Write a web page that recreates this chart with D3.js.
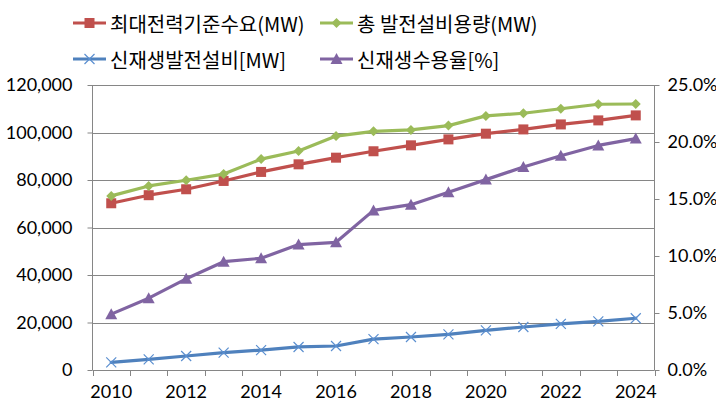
<!DOCTYPE html>
<html><head><meta charset="utf-8">
<script src="https://cdn.jsdelivr.net/npm/d3@7"></script>
<style>
html,body{margin:0;padding:0;background:#fff;}
svg{display:block;}
.ax text{font-family:Lato, "Open Sans", sans-serif;font-size:18px;fill:#000;}
.leg text{font-family:"Noto Sans CJK KR", sans-serif;font-size:20px;fill:#000;}
</style></head>
<body>
<script>
const years = [2010,2011,2012,2013,2014,2015,2016,2017,2018,2019,2020,2021,2022,2023,2024];
const peakDemand = [70200,73600,76100,79600,83400,86600,89400,92100,94600,97100,99500,101300,103400,105100,107200];
const totalCapacity = [73300,77500,79900,82500,88800,92200,98500,100500,101100,102900,107000,108100,110000,111900,112000];
const renewableCapacity = [3200,4500,5900,7300,8400,9700,10100,13000,13900,15000,16700,18100,19400,20500,21800];
const renewableRatio = [4.9,6.3,8.0,9.5,9.8,11.0,11.2,14.0,14.5,15.6,16.7,17.8,18.8,19.7,20.3];
const leftTicks = [0,20000,40000,60000,80000,100000,120000];
const rightTicks = [0,5,10,15,20,25];
const xLabels = [2010,2012,2014,2016,2018,2020,2022,2024];
const seriesNames = ["최대전력기준수요(MW)","총 발전설비용량(MW)","신재생발전설비[MW]","신재생수용율[%]"];

const W=716,H=412;
const L=92.5,R=654.5,T=85,B=370;
const svg=d3.select("body").append("svg").attr("width",W).attr("height",H);

const x=d3.scaleBand().domain(years).range([L,R]).padding(0);
const cx=d=>x(d)+x.bandwidth()/2;
const yL=d3.scaleLinear().domain([0,120000]).range([B,T]);
const yR=d3.scaleLinear().domain([0,25]).range([B,T]);
const gridC="#868686";

// gridlines
svg.append("g").selectAll("line").data(leftTicks.filter(d=>d>0)).join("line")
  .attr("x1",L).attr("x2",R).attr("y1",d=>Math.round(yL(d))+0.5).attr("y2",d=>Math.round(yL(d))+0.5)
  .attr("stroke",gridC).attr("stroke-width",1);

// left axis
const gl=svg.append("g").attr("class","ax").attr("transform",`translate(${L},0)`)
  .call(d3.axisLeft(yL).tickValues(leftTicks).tickSize(5).tickPadding(15).tickFormat(d3.format(",")));
gl.selectAll("line,path").attr("stroke",gridC);
gl.select(".domain").attr("d",`M0,${B}V${T}`);
gl.selectAll("text").attr("font-family",null).attr("font-size",null);

// right axis
const gr=svg.append("g").attr("class","ax").attr("transform",`translate(${R},0)`)
  .call(d3.axisRight(yR).tickValues(rightTicks).tickSize(5).tickPadding(8).tickFormat(d=>d.toFixed(1)+"%"));
gr.selectAll("line,path").attr("stroke",gridC);
gr.select(".domain").attr("d",`M0,${B}V${T}`);
gr.selectAll("text").attr("font-family",null).attr("font-size",null);

// bottom axis
const gb=svg.append("g").attr("class","ax");
gb.append("line").attr("x1",L).attr("x2",R).attr("y1",B+0.5).attr("y2",B+0.5).attr("stroke",gridC);
const bounds=years.map(d=>x(d)).concat([R]);
gb.selectAll("line.t").data(bounds).join("line").attr("class","t")
  .attr("x1",d=>Math.round(d)+0.5).attr("x2",d=>Math.round(d)+0.5).attr("y1",B).attr("y2",B+6).attr("stroke",gridC);
gb.selectAll("text").data(xLabels).join("text")
  .attr("x",d=>cx(d)).attr("y",B+23).attr("text-anchor","middle").attr("dominant-baseline","middle").text(d=>d);

const colors=["#C0504D","#9BBB59","#4F81BD","#8064A2"];
const datasets=[
  {vals:peakDemand,y:yL,c:colors[0],m:"square"},
  {vals:totalCapacity,y:yL,c:colors[1],m:"diamond"},
  {vals:renewableCapacity,y:yL,c:colors[2],m:"x"},
  {vals:renewableRatio,y:yR,c:colors[3],m:"triangle"}
];

function marker(g,type,c,px,py){
  if(type==="square"){
    g.append("rect").attr("x",px-5).attr("y",py-5).attr("width",10).attr("height",10).attr("fill",c);
  } else if(type==="diamond"){
    g.append("path").attr("d",`M${px},${py-5}L${px+5},${py}L${px},${py+5}L${px-5},${py}Z`).attr("fill",c);
  } else if(type==="triangle"){
    g.append("path").attr("d",`M${px},${py-6}L${px+6},${py+5}L${px-6},${py+5}Z`).attr("fill",c);
  } else {
    g.append("path").attr("d",`M${px-5},${py-5}L${px+5},${py+5}M${px-5},${py+5}L${px+5},${py-5}`)
      .attr("stroke","#5B8FD0").attr("stroke-width",1.2).attr("fill","none");
  }
}

datasets.forEach(ds=>{
  const g=svg.append("g");
  const line=d3.line().x((d,i)=>cx(years[i])).y(d=>ds.y(d));
  g.append("path").attr("d",line(ds.vals)).attr("fill","none").attr("stroke",ds.c)
    .attr("stroke-width",3.2).attr("stroke-linejoin","round").attr("stroke-linecap","round");
  ds.vals.forEach((v,i)=>marker(g,ds.m,ds.c,cx(years[i]),ds.y(v)));
});

// legend
const leg=svg.append("g").attr("class","leg");
const legPos=[[73,23],[320,23],[73,59],[320,59]];
datasets.forEach((ds,i)=>{
  const [lx,ly]=legPos[i];
  const g=leg.append("g");
  g.append("line").attr("x1",lx).attr("x2",lx+33).attr("y1",ly).attr("y2",ly).attr("stroke",ds.c).attr("stroke-width",3.2);
  marker(g,ds.m,ds.c,lx+16.5,ly);
  g.append("text").attr("x",lx+37).attr("y",ly).attr("dominant-baseline","central").text(seriesNames[i]);
});
</script>
</body></html>
